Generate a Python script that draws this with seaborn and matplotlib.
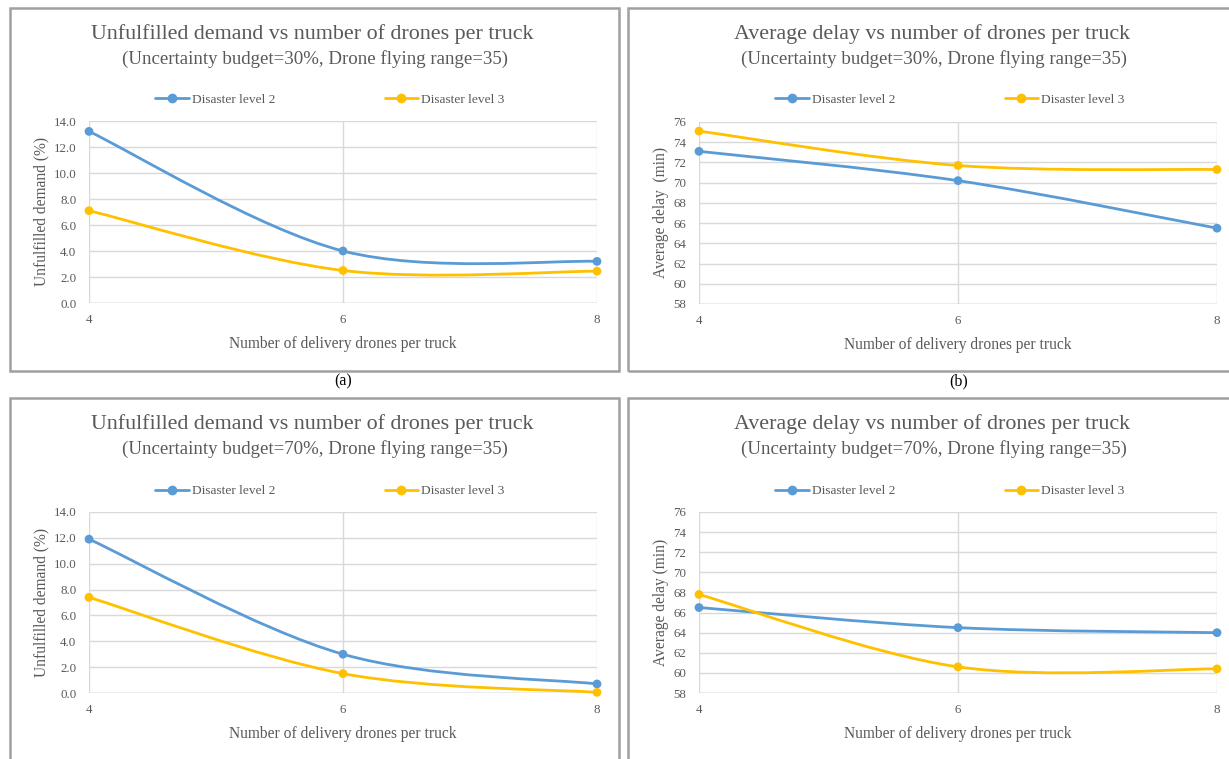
import matplotlib
matplotlib.use("Agg")
import matplotlib.pyplot as plt
from matplotlib.path import Path
from matplotlib.patches import PathPatch, Rectangle
from matplotlib.lines import Line2D
import seaborn as sns
import pandas as pd

# data
drones = [4, 6, 8]
series_names = ["Disaster level 2", "Disaster level 3"]

unmet_30_lvl2 = [13.2, 4.0, 3.2]
unmet_30_lvl3 = [7.1, 2.5, 2.45]
delay_30_lvl2 = [73.1, 70.2, 65.5]
delay_30_lvl3 = [75.1, 71.7, 71.3]
unmet_70_lvl2 = [11.9, 3.0, 0.7]
unmet_70_lvl3 = [7.4, 1.5, 0.05]
delay_70_lvl2 = [66.5, 64.5, 64.0]
delay_70_lvl3 = [67.8, 60.6, 60.4]

unmet_ticks = [0, 2, 4, 6, 8, 10, 12, 14]
delay_ticks = [58, 60, 62, 64, 66, 68, 70, 72, 74, 76]

BLUE = "#5B9BD5"
GOLD = "#FFC000"
TXT = "#595959"
GRID = "#d9d9d9"
SERIF = ["Liberation Serif", "DejaVu Serif"]

sns.set_style("white")
plt.rcParams["font.family"] = SERIF

W, H = 1229, 759
fig = plt.figure(figsize=(W / 100, H / 100), dpi=100)


def fx(px):
    return px / W


def fy(py):
    return 1 - py / H


def smooth_path(xs, ys):
    # Excel-style smoothed line: cubic bezier through the data points
    n = len(xs)
    verts = [(xs[0], ys[0])]
    codes = [Path.MOVETO]
    for i in range(n - 1):
        p0 = max(i - 1, 0)
        p3 = min(i + 2, n - 1)
        c1 = (xs[i] + (xs[i + 1] - xs[p0]) / 6, ys[i] + (ys[i + 1] - ys[p0]) / 6)
        c2 = (xs[i + 1] - (xs[p3] - xs[i]) / 6, ys[i + 1] - (ys[p3] - ys[i]) / 6)
        verts += [c1, c2, (xs[i + 1], ys[i + 1])]
        codes += [Path.CURVE4] * 3
    return Path(verts, codes)


def panel(box_x, box_y, box_w, box_h, ax_rect, title, subtitle, lvl2, lvl3,
          ylabel, yticks, fmt, legend_x, legend_y, tag=None, tag_x=None):
    fig.patches.append(Rectangle((fx(box_x), fy(box_y + box_h)), box_w / W, box_h / H,
                                 transform=fig.transFigure, fill=False,
                                 edgecolor="#a0a0a0", linewidth=1.8, zorder=0))
    cx = box_x + box_w / 2
    fig.text(fx(cx - 2), fy(box_y + 26), title, ha="center", va="center",
             fontsize=15.8, color=TXT)
    fig.text(fx(cx), fy(box_y + 51), subtitle, ha="center", va="center",
             fontsize=13.6, color=TXT)
    if tag:
        fig.text(fx(tag_x), fy(box_y + box_h + 10), tag, ha="center", va="center",
                 fontsize=11.5, color="black")

    ax = fig.add_axes(ax_rect)
    df = pd.DataFrame({
        "drones": drones * 2,
        "value": lvl2 + lvl3,
        "series": [series_names[0]] * 3 + [series_names[1]] * 3,
    })
    for vals, col in ((lvl2, BLUE), (lvl3, GOLD)):
        ax.add_patch(PathPatch(smooth_path(drones, vals), facecolor="none",
                               edgecolor=col, linewidth=2, clip_on=False, zorder=3))
    sns.scatterplot(data=df, x="drones", y="value", hue="series",
                    palette=[BLUE, GOLD], s=40, edgecolor="none", legend=False,
                    clip_on=False, zorder=4, ax=ax)

    ax.set_xlim(4, 8)
    ax.set_ylim(yticks[0], yticks[-1])
    ax.set_xticks(drones)
    ax.set_yticks(yticks)
    ax.set_yticklabels([fmt.format(t) for t in yticks])
    ax.grid(True, color=GRID, linewidth=1)
    ax.set_axisbelow(True)
    for s in ax.spines.values():
        s.set_visible(False)
    ax.axhline(yticks[0], color="#bfbfbf", linewidth=1, zorder=1)
    ax.tick_params(length=0, labelsize=9.3, labelcolor=TXT)
    ax.tick_params(axis="x", pad=8)
    ax.tick_params(axis="y", pad=9)
    ax.set_xlabel("Number of delivery drones per truck", fontsize=11.2, color=TXT,
                  labelpad=7)
    ax.set_ylabel(ylabel, fontsize=11.2, color=TXT, labelpad=3)

    handles = [Line2D([], [], color=BLUE, lw=2, marker="o", markersize=6),
               Line2D([], [], color=GOLD, lw=2, marker="o", markersize=6)]
    fig.legend(handles, series_names, loc="center",
               bbox_to_anchor=(fx(legend_x), fy(legend_y)), ncol=2, frameon=False,
               fontsize=9.6, labelcolor=TXT, handlelength=2.5, handletextpad=0.25,
               columnspacing=8.2)
    return ax


panel(10, 8, 609, 363, [fx(89), fy(303), 508 / W, 182 / H],
      "Unfulfilled demand vs number of drones per truck",
      "(Uncertainty budget=30%, Drone flying range=35)",
      unmet_30_lvl2, unmet_30_lvl3, "Unfulfilled demand (%)", unmet_ticks, "{:.1f}",
      330, 100, "(a)", 343)
panel(628, 8, 612, 363, [fx(699), fy(304), 518 / W, 182 / H],
      "Average delay vs number of drones per truck",
      "(Uncertainty budget=30%, Drone flying range=35)",
      delay_30_lvl2, delay_30_lvl3, "Average delay  (min)", delay_ticks, "{:d}",
      950, 100, "(b)", 959)
panel(10, 398, 609, 380, [fx(89), fy(693), 508 / W, 181 / H],
      "Unfulfilled demand vs number of drones per truck",
      "(Uncertainty budget=70%, Drone flying range=35)",
      unmet_70_lvl2, unmet_70_lvl3, "Unfulfilled demand (%)", unmet_ticks, "{:.1f}",
      330, 491)
panel(628, 398, 612, 380, [fx(699), fy(693), 518 / W, 181 / H],
      "Average delay vs number of drones per truck",
      "(Uncertainty budget=70%, Drone flying range=35)",
      delay_70_lvl2, delay_70_lvl3, "Average delay (min)", delay_ticks, "{:d}",
      950, 491)

fig.savefig("out.png", dpi=100)
